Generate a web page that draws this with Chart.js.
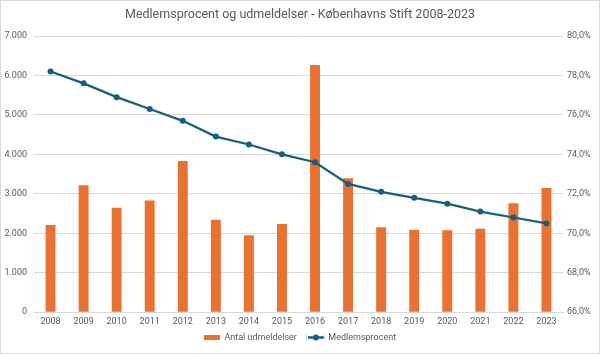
<!DOCTYPE html>
<html>
<head>
<meta charset="utf-8">
<script src="https://cdn.jsdelivr.net/npm/chart.js@4"></script>
<style>
  html, body { margin: 0; padding: 0; background: #fff; }
  #wrap { width: 600px; height: 354px; }
</style>
</head>
<body>
<div id="wrap"><canvas id="myChart" width="600" height="354"></canvas></div>
<script>
const years = ['2008','2009','2010','2011','2012','2013','2014','2015','2016','2017','2018','2019','2020','2021','2022','2023'];
const udmeldelser = [2210, 3215, 2650, 2830, 3830, 2345, 1950, 2235, 6265, 3395, 2155, 2090, 2075, 2115, 2760, 3150];
const medlemsprocent = [78.2, 77.6, 76.9, 76.3, 75.7, 74.9, 74.5, 74.0, 73.6, 72.5, 72.1, 71.8, 71.5, 71.1, 70.8, 70.5];

const textColor = '#595959';
const fontFamily = 'Roboto, "Liberation Sans", sans-serif';

// white background + thin frame like the Excel chart border
const frame = {
  id: 'frame',
  beforeDraw(chart) {
    const c = chart.ctx;
    c.save();
    c.fillStyle = '#fff';
    c.fillRect(0, 0, chart.width, chart.height);
    c.strokeStyle = '#d9d9d9';
    c.lineWidth = 1;
    c.strokeRect(0.5, 0.5, chart.width - 1, chart.height - 1);
    c.restore();
  }
};

// redraw the line legend marker as line + dot
const legendMarker = {
  id: 'legendMarker',
  afterDraw(chart) {
    const lg = chart.legend;
    if (!lg || !lg.legendHitBoxes) return;
    const c = chart.ctx;
    lg.legendItems.forEach((item, i) => {
      const hb = lg.legendHitBoxes[i];
      const bw = lg.options.labels.boxWidth;
      const cy = hb.top + hb.height / 2;
      if (item.datasetIndex === 1) {
        c.save();
        c.fillStyle = '#fff';
        c.fillRect(hb.left - 1, cy - 5, bw + 2, 10);
        c.strokeStyle = '#156082';
        c.lineWidth = 2.5;
        c.beginPath();
        c.moveTo(hb.left, cy);
        c.lineTo(hb.left + bw, cy);
        c.stroke();
        c.fillStyle = '#156082';
        c.beginPath();
        c.arc(hb.left + bw / 2, cy, 3, 0, Math.PI * 2);
        c.fill();
        c.restore();
      }
    });
  }
};

const ctx = document.getElementById('myChart').getContext('2d');
new Chart(ctx, {
  type: 'bar',
  data: {
    labels: years,
    datasets: [{
      type: 'bar',
      label: 'Antal udmeldelser',
      data: udmeldelser,
      yAxisID: 'y',
      backgroundColor: '#E97132',
      barPercentage: 0.3,
      categoryPercentage: 1,
      order: 1
    }, {
      type: 'line',
      label: 'Medlemsprocent',
      data: medlemsprocent,
      yAxisID: 'y1',
      borderColor: '#156082',
      backgroundColor: '#156082',
      borderWidth: 2.25,
      pointRadius: 3,
      pointBorderWidth: 0,
      pointHoverRadius: 3,
      tension: 0,
      order: 0
    }]
  },
  options: {
    responsive: false,
    animation: false,
    layout: { padding: { top: 4, left: 0, right: 0, bottom: 2 } },
    plugins: {
      title: {
        display: true,
        text: 'Medlemsprocent og udmeldelser - Københavns Stift 2008-2023',
        color: textColor,
        font: { family: fontFamily, size: 12.5, weight: 'normal' },
        padding: { top: 3, bottom: 14 }
      },
      legend: {
        position: 'bottom',
        labels: {
          color: textColor,
          font: { family: fontFamily, size: 9 },
          boxWidth: 16,
          boxHeight: 5,
          padding: 2,
          sort: (a, b) => a.datasetIndex - b.datasetIndex,
          generateLabels(chart) {
            const items = Chart.defaults.plugins.legend.labels.generateLabels(chart);
            items.forEach(it => { if (it.datasetIndex === 0) it.text += '    '; });
            return items;
          }
        }
      },
      tooltip: { enabled: false }
    },
    scales: {
      x: {
        grid: { display: false, drawTicks: false },
        border: { display: true, color: '#d9d9d9' },
        ticks: { color: textColor, font: { family: fontFamily, size: 9 }, padding: 4, maxRotation: 0 }
      },
      y: {
        position: 'left',
        min: 0,
        max: 7000,
        grid: { color: '#d9d9d9', drawTicks: false },
        border: { display: false },
        ticks: {
          stepSize: 1000,
          color: textColor,
          font: { family: fontFamily, size: 9 },
          padding: 7,
          callback: v => v.toLocaleString('da-DK')
        },
        afterFit(s) { s.width = 34; }
      },
      y1: {
        position: 'right',
        min: 66,
        max: 80,
        grid: { display: false, drawTicks: false },
        border: { display: false },
        ticks: {
          stepSize: 2,
          color: textColor,
          font: { family: fontFamily, size: 9 },
          padding: 4,
          callback: v => v.toFixed(1).replace('.', ',') + '%'
        },
        afterFit(s) { s.width = 37; }
      }
    }
  },
  plugins: [frame, legendMarker]
});
</script>
</body>
</html>
